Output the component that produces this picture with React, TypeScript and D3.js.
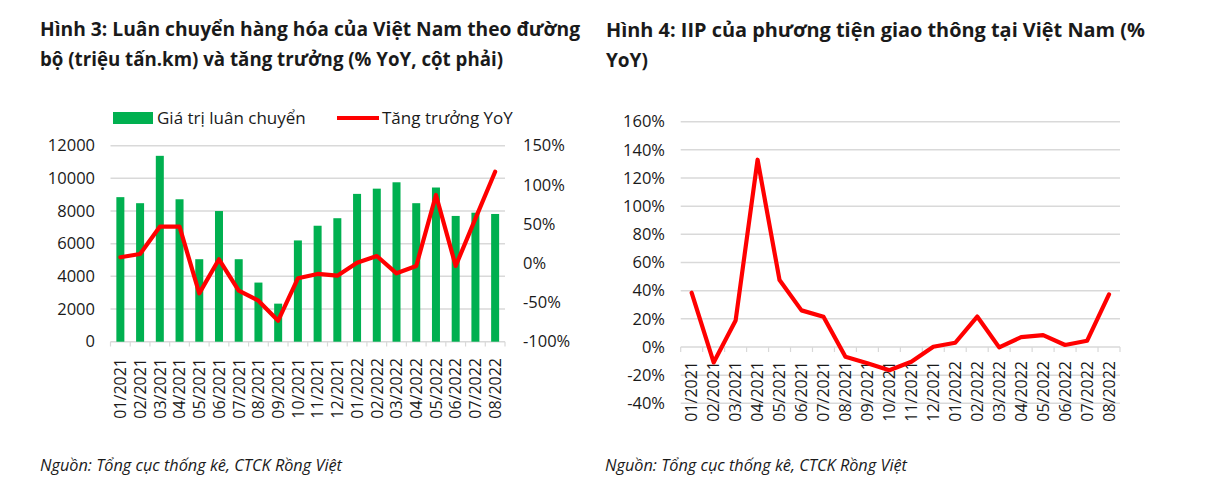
import React from "react";
import * as d3 from "d3";

const categories = [
  "01/2021", "02/2021", "03/2021", "04/2021", "05/2021", "06/2021", "07/2021",
  "08/2021", "09/2021", "10/2021", "11/2021", "12/2021", "01/2022", "02/2022",
  "03/2022", "04/2022", "05/2022", "06/2022", "07/2022", "08/2022",
];
const transportValues = [
  8850, 8480, 11380, 8720, 5050, 8000, 5050, 3620, 2330, 6200, 7100, 7560,
  9050, 9370, 9760, 8480, 9440, 7700, 7900, 7820,
];
const transportYoY = [
  7.7, 11.9, 46.7, 46.7, -38.3, 5.1, -35, -47.7, -73.2, -19.1, -13.6, -15.8,
  0.8, 9.3, -12.8, -3.4, 87.1, -3.4, 57, 116.8,
];
const iipYoY = [
  38.5, -11, 18.8, 133, 47.5, 26, 21.5, -7, -11.5, -16.5, -10.5, 0.2, 3, 21.6,
  -0.3, 7, 8.4, 1.4, 4.4, 37.4,
];
const leftTicks = [0, 2000, 4000, 6000, 8000, 10000, 12000];
const rightTicks = [-100, -50, 0, 50, 100, 150];
const iipTicks = [-40, -20, 0, 20, 40, 60, 80, 100, 120, 140, 160];

const title1 = [
  "Hình 3: Luân chuyển hàng hóa của Việt Nam theo đường",
  "bộ (triệu tấn.km) và tăng trưởng (% YoY, cột phải)",
];
const title2 = [
  "Hình 4: IIP của phương tiện giao thông tại Việt Nam (%",
  "YoY)",
];
const legendLabels = ["Giá trị luân chuyển", "Tăng trưởng YoY"];
const sourceText = "Nguồn: Tổng cục thống kê, CTCK Rồng Việt";

const FONT = "'Open Sans', 'Noto Sans', sans-serif";
const GRID = "#d9d9d9";
const GREEN = "#00b050";
const RED = "#ff0000";
const TICK_FS = 16.5;

function Chart1() {
  const xb = d3.scaleBand<string>().domain(categories).range([110.5, 505]);
  const y = d3.scaleLinear().domain([0, 12000]).range([341.7, 145.7]);
  const yr = d3.scaleLinear().domain([-100, 150]).range([341.7, 145.7]);
  const line = d3
    .line<number>()
    .x((_, i) => (xb(categories[i]) as number) + xb.bandwidth() / 2)
    .y((d) => yr(d));
  const bw = 8;
  return (
    <g>
      <text x={40} y={36} fontFamily={FONT} fontWeight={700} fontSize={19} fill="#1a1a1a" textLength={540} lengthAdjust="spacingAndGlyphs">
        {title1[0]}
      </text>
      <text x={40} y={66} fontFamily={FONT} fontWeight={700} fontSize={19} fill="#1a1a1a" textLength={463} lengthAdjust="spacingAndGlyphs">
        {title1[1]}
      </text>
      {leftTicks.map((t) => (
        <line key={t} x1={110.5} x2={505} y1={y(t)} y2={y(t)} stroke={GRID} strokeWidth={1.5} />
      ))}
      {categories.concat([""]).map((c, i) => {
        const xx = 110.5 + i * xb.step();
        return <line key={i} x1={xx} x2={xx} y1={341.7} y2={346.5} stroke={GRID} strokeWidth={1.2} />;
      })}
      {transportValues.map((v, i) => {
        const cx = (xb(categories[i]) as number) + xb.bandwidth() / 2;
        return <rect key={i} x={cx - bw / 2} y={y(v)} width={bw} height={y(0) - y(v)} fill={GREEN} />;
      })}
      <path d={line(transportYoY) || ""} fill="none" stroke={RED} strokeWidth={4.2} strokeLinejoin="round" strokeLinecap="round" />
      {leftTicks.map((t) => (
        <text key={t} x={95} y={y(t)} dy="0.35em" textAnchor="end" fontFamily={FONT} fontSize={TICK_FS} fill="#1a1a1a">
          {t}
        </text>
      ))}
      {rightTicks.map((t) => (
        <text key={t} x={523} y={yr(t)} dy="0.35em" textAnchor="start" fontFamily={FONT} fontSize={TICK_FS} fill="#1a1a1a">
          {t + "%"}
        </text>
      ))}
      {categories.map((c) => {
        const cx = (xb(c) as number) + xb.bandwidth() / 2;
        return (
          <text key={c} transform={`translate(${cx + 5.8},358) rotate(-90)`} textAnchor="end" fontFamily={FONT} fontSize={16} fill="#1a1a1a">
            {c}
          </text>
        );
      })}
      <rect x={113} y={112} width={40} height={12} fill={GREEN} />
      <text x={157} y={118} dy="0.35em" fontFamily={FONT} fontSize={17} fill="#1a1a1a">
        {legendLabels[0]}
      </text>
      <line x1={337} x2={379} y1={118} y2={118} stroke={RED} strokeWidth={4.2} />
      <text x={382} y={118} dy="0.35em" fontFamily={FONT} fontSize={17} fill="#1a1a1a">
        {legendLabels[1]}
      </text>
      <text x={40} y={471} fontFamily={FONT} fontStyle="italic" fontSize={15.5} fill="#1a1a1a" textLength={302} lengthAdjust="spacingAndGlyphs">
        {sourceText}
      </text>
    </g>
  );
}

function Chart2() {
  const xb = d3.scaleBand<string>().domain(categories).range([680.7, 1120]);
  const y = d3.scaleLinear().domain([-40, 160]).range([403.3, 121.7]);
  const line = d3
    .line<number>()
    .x((_, i) => (xb(categories[i]) as number) + xb.bandwidth() / 2)
    .y((d) => y(d));
  return (
    <g>
      <text x={606} y={37} fontFamily={FONT} fontWeight={700} fontSize={19} fill="#1a1a1a" textLength={539} lengthAdjust="spacingAndGlyphs">
        {title2[0]}
      </text>
      <text x={606} y={67} fontFamily={FONT} fontWeight={700} fontSize={19} fill="#1a1a1a">
        {title2[1]}
      </text>
      {iipTicks.map((t) => (
        <line key={t} x1={680.7} x2={1120} y1={y(t)} y2={y(t)} stroke={GRID} strokeWidth={1.5} />
      ))}
      {categories.concat([""]).map((c, i) => {
        const xx = 680.7 + i * xb.step();
        return <line key={i} x1={xx} x2={xx} y1={y(0)} y2={y(0) + 5} stroke={GRID} strokeWidth={1.2} />;
      })}
      {iipTicks.map((t) => (
        <text key={t} x={665} y={y(t)} dy="0.35em" textAnchor="end" fontFamily={FONT} fontSize={TICK_FS} fill="#1a1a1a">
          {t + "%"}
        </text>
      ))}
      {categories.map((c) => {
        const cx = (xb(c) as number) + xb.bandwidth() / 2;
        return (
          <text key={c} transform={`translate(${cx + 5.8},361) rotate(-90)`} textAnchor="end" fontFamily={FONT} fontSize={16} fill="#1a1a1a">
            {c}
          </text>
        );
      })}
      <path d={line(iipYoY) || ""} fill="none" stroke={RED} strokeWidth={4.2} strokeLinejoin="round" strokeLinecap="round" />
      <text x={605} y={471} fontFamily={FONT} fontStyle="italic" fontSize={15.5} fill="#1a1a1a" textLength={302} lengthAdjust="spacingAndGlyphs">
        {sourceText}
      </text>
    </g>
  );
}

export default function App() {
  return (
    <svg
      width={1222}
      height={501}
      style={{ position: "absolute", left: 0, top: 0, background: "#fff" }}
    >
      <rect width={1222} height={501} fill="#fff" />
      <Chart1 />
      <Chart2 />
    </svg>
  );
}
